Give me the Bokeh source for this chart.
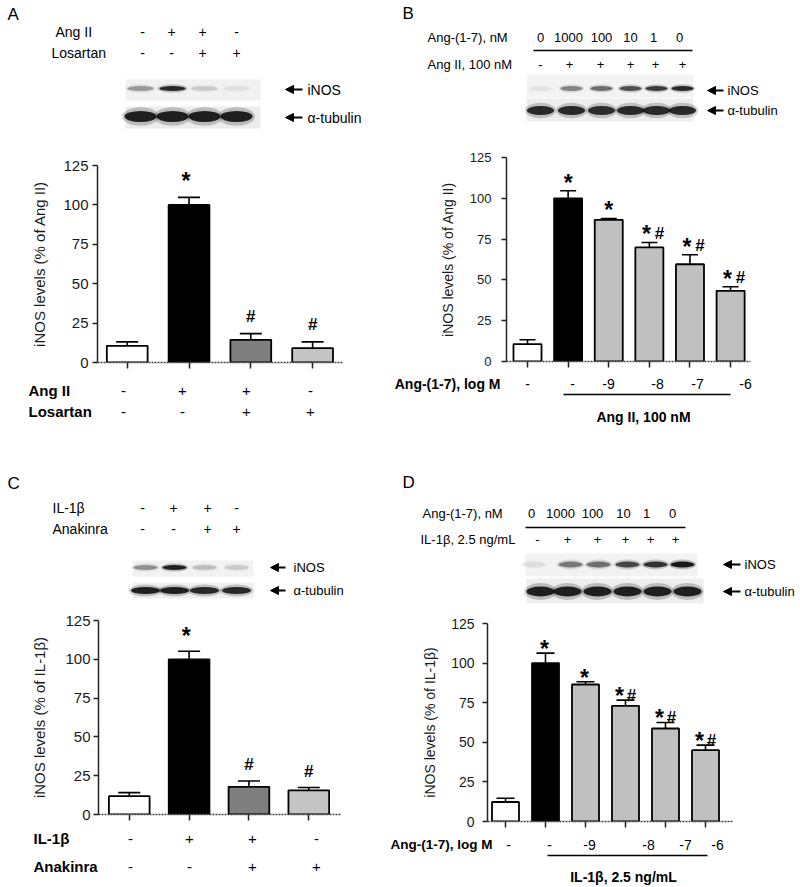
from bokeh.plotting import figure
from bokeh.models import Range1d, ColumnDataSource, Whisker, TeeHead, FixedTicker, Arrow, NormalHead, Label
from bokeh.layouts import row, column
from bokeh.core.properties import value
from bokeh.embed import file_html
from bokeh.resources import INLINE

FONT = "Liberation Sans"

# ---------------- data ----------------
# Panel A
A_row_names = ["Ang II", "Losartan"]
A_angii = ["-", "+", "+", "-"]
A_losartan = ["-", "-", "+", "+"]
A_inos_band = [0.35, 0.9, 0.15, 0.06]
A_tub_band = [0.95, 0.95, 0.95, 0.95]
A_values = [10.6, 100, 14.4, 9.1]
A_err = [13.1, 104.8, 18.3, 13.1]
A_colors = ["white", "black", "#7f7f7f", "#c4c4c4"]
A_marks = ["", "*", "#", "#"]
A_ylabel = "iNOS levels (% of Ang II)"

# Panel B
B_ang17_nM = ["0", "1000", "100", "10", "1", "0"]
B_angii = ["-", "+", "+", "+", "+", "+"]
B_inos_band = [0.06, 0.45, 0.55, 0.7, 0.8, 0.9]
B_tub_band = [0.9, 0.9, 0.88, 0.9, 0.9, 0.9]
B_values = [10.6, 100, 86.8, 69.9, 59.6, 43.3]
B_err = [13.3, 104.6, 87.6, 72.9, 65.4, 45.8]
B_colors = ["white", "black", "#c0c0c0", "#c0c0c0", "#c0c0c0", "#c0c0c0"]
B_marks = ["", "*", "*", "*#", "*#", "*#"]
B_log = ["-", "-", "-9", "-8", "-7", "-6"]
B_ylabel = "iNOS levels (% of Ang II)"

# Panel C
C_il1b = ["-", "+", "+", "-"]
C_anakinra = ["-", "-", "+", "+"]
C_inos_band = [0.4, 0.95, 0.2, 0.15]
C_tub_band = [0.95, 0.95, 0.9, 0.9]
C_values = [11.8, 100, 17.8, 15.6]
C_err = [14.1, 105.2, 21.6, 17.4]
C_colors = ["white", "black", "#7f7f7f", "#c4c4c4"]
C_marks = ["", "*", "#", "#"]
C_ylabel = "iNOS levels (% of IL-1\u03b2)"

# Panel D
D_ang17_nM = ["0", "1000", "100", "10", "1", "0"]
D_il1b = ["-", "+", "+", "+", "+", "+"]
D_inos_band = [0.08, 0.5, 0.55, 0.75, 0.85, 1.0]
D_tub_band = [0.95, 0.95, 0.95, 0.95, 0.95, 0.95]
D_values = [12.3, 100, 86.5, 73.0, 58.7, 45.0]
D_err = [14.7, 106.3, 88.2, 76.6, 62.5, 48.2]
D_colors = ["white", "black", "#c0c0c0", "#c0c0c0", "#c0c0c0", "#c0c0c0"]
D_marks = ["", "*", "*", "*#", "*#", "*#"]
D_log = ["-", "-", "-9", "-8", "-7", "-6"]
D_ylabel = "iNOS levels (% of IL-1\u03b2)"


# ---------------- helpers ----------------
def canvas(x0, y0, w, h):
    p = figure(width=w, height=h, x_range=Range1d(x0, x0 + w), y_range=Range1d(y0 + h, y0),
               output_backend="svg", toolbar_location=None, x_axis_type=None, y_axis_type=None,
               min_border=0, outline_line_color=None, background_fill_color="white",
               border_fill_color="white", frame_align=False)
    return p


def txt(p, xs, ys, texts, size, align="left", bold=False, baseline="middle"):
    p.text(x=xs, y=ys, text=texts, text_font=value(FONT), text_font_size=value(f"{size}px"),
           text_align=align, text_baseline=baseline, text_color="black",
           text_font_style="bold" if bold else "normal")


def letter(p, x, y, t):
    p.add_layout(Label(x=x, y=y, text=t, text_font=FONT, text_font_size="17px",
                       text_align="left", text_baseline="middle", text_color="black"))


def blot(p, lanes, yc, box, strength, bw, bh, bg):
    p.quad(left=[box[0]], right=[box[1]], top=[box[2]], bottom=[box[3]], fill_color=bg, line_color=None)
    n = len(lanes)
    p.ellipse(x=lanes, y=[yc] * n, width=bw * 1.15, height=bh * 1.7, fill_color="black",
              fill_alpha=[s * 0.22 for s in strength], line_color=None)
    p.ellipse(x=lanes, y=[yc] * n, width=bw, height=bh, fill_color="black",
              fill_alpha=[s * 0.88 for s in strength], line_color=None)


def arrow(p, x_from, x_to, y):
    p.add_layout(Arrow(end=NormalHead(size=8, fill_color="black", line_color="black"),
                       x_start=x_from, y_start=y, x_end=x_to, y_end=y, line_width=2.2, line_color="black"))


STAR_C = 0.30   # visual centre of "*" above the baseline, in em
HASH_C = 0.35


def bar_panel(w, h, bl, br, bt, bb, xr, vals, errs, cols, bw, cap, tick_fs, lab_fs, lab,
              tick_sd, lab_sd, marks, gap, sdx_single, sdx_pair, hdx_pair, star_fs=23, hash_fs=17):
    p = figure(width=w, height=h, x_range=Range1d(xr[0], xr[1]), y_range=Range1d(0, 125),
               output_backend="svg", toolbar_location=None, min_border_left=bl, min_border_right=br,
               min_border_top=bt, min_border_bottom=bb, outline_line_color=None,
               background_fill_color="white", border_fill_color="white", frame_align=False)
    p.xgrid.visible = False
    p.ygrid.visible = False
    n = len(vals)
    xs = list(range(1, n + 1))
    src = ColumnDataSource(dict(x=xs, top=vals, err=errs, color=cols))
    p.vbar(x="x", top="top", bottom=0, width=bw, fill_color="color", line_color="black",
           line_width=1.8, source=src)
    p.add_layout(Whisker(source=src, base="x", upper="err", lower="top", dimension="height",
                         line_color="black", line_width=1.6,
                         upper_head=TeeHead(size=cap, line_width=1.6, line_color="black"),
                         lower_head=None))
    sx, sy, sdx, hx, hy, hdx = [], [], [], [], [], []
    for i, m in enumerate(marks):
        if "*" in m:
            sx.append(i + 1); sy.append(errs[i]); sdx.append(sdx_pair if "#" in m else sdx_single)
        if "#" in m:
            hx.append(i + 1); hy.append(errs[i]); hdx.append(hdx_pair if "*" in m else 0)
    ssrc = ColumnDataSource(dict(x=sx, y=sy, dx=sdx, t=["*"] * len(sx)))
    hsrc = ColumnDataSource(dict(x=hx, y=hy, dx=hdx, t=["#"] * len(hx)))
    p.text(x="x", y="y", text="t", x_offset="dx", y_offset=-gap + STAR_C * star_fs, source=ssrc,
           text_align="center", text_baseline="alphabetic", text_font=value(FONT),
           text_font_size=value(f"{star_fs}px"), text_font_style="bold", text_color="black")
    p.text(x="x", y="y", text="t", x_offset="dx", y_offset=-gap + HASH_C * hash_fs, source=hsrc,
           text_align="center", text_baseline="alphabetic", text_font=value(FONT),
           text_font_size=value(f"{hash_fs}px"), text_font_style="bold", text_color="black")

    ya = p.yaxis[0]
    ya.ticker = FixedTicker(ticks=[0, 25, 50, 75, 100, 125])
    ya.minor_tick_line_color = None
    ya.major_tick_in = 0
    ya.major_tick_out = 5
    ya.axis_line_width = 1.5
    ya.axis_line_color = "#222222"
    ya.major_tick_line_width = 1.5
    ya.major_tick_line_color = "#222222"
    ya.major_label_text_font = FONT
    ya.major_label_text_font_size = f"{tick_fs}px"
    ya.major_label_text_color = "#1a1a1a"
    ya.major_label_standoff = tick_sd
    ya.axis_label = lab
    ya.axis_label_text_font = FONT
    ya.axis_label_text_font_size = f"{lab_fs}px"
    ya.axis_label_text_font_style = "normal"
    ya.axis_label_text_color = "#1a1a1a"
    ya.axis_label_standoff = lab_sd

    xa = p.xaxis[0]
    xa.ticker = FixedTicker(ticks=xs)
    xa.minor_tick_line_color = None
    xa.major_tick_in = 0
    xa.major_tick_out = 6
    xa.major_tick_line_width = 1.5
    xa.major_tick_line_color = "#222222"
    xa.axis_line_width = 1.5
    xa.axis_line_color = "#444444"
    xa.axis_line_dash = "2 1"
    xa.major_label_overrides = {k: "" for k in xs}
    xa.major_label_text_font_size = "6px"
    xa.major_label_standoff = 0
    return p


# ---------------- left column (x 0..385) ----------------
LW = 385
A_top = canvas(0, 0, LW, 150)
letter(A_top, 7, 14, "A")
txt(A_top, [55, 51], [31, 52], A_row_names, 14)
hx = [142, 171, 202, 236]
txt(A_top, hx, [31] * 4, A_angii, 14, align="center")
txt(A_top, hx, [52] * 4, A_losartan, 14, align="center")
lanesA = [140, 172, 204, 236]
blot(A_top, lanesA, 88, (125, 260, 79, 100), A_inos_band, 26, 5, "#f1f1f1")
blot(A_top, lanesA, 116, (125, 260, 106, 128), A_tub_band, 32, 11, "#ececec")
arrow(A_top, 302, 285, 89)
arrow(A_top, 302, 285, 117)
txt(A_top, [307, 307], [89, 117], ["iNOS", "\u03b1-tubulin"], 14)

# A bars: frame x 97..343, y 165..362
A_bar = bar_panel(LW, 226, 97, 42, 15, 14, (0.519, 4.50), A_values, A_err, A_colors, 0.66, 22,
                  15, 15, A_ylabel, 4, 12, A_marks, 23, -3, -3, 10)

# A rows + C top
AC = canvas(0, 376, LW, 229)
txt(AC, [28, 28], [390, 411], A_row_names, 15, bold=True)
rx = [123, 182, 246, 310]
txt(AC, rx, [390] * 4, A_angii, 15, align="center")
txt(AC, rx, [411] * 4, A_losartan, 15, align="center")
letter(AC, 7, 483, "C")
txt(AC, [52, 52], [507, 528], ["IL-1\u03b2", "Anakinra"], 14)
cx = [142, 173, 207, 236]
txt(AC, cx, [507] * 4, C_il1b, 14, align="center")
txt(AC, cx, [528] * 4, C_anakinra, 14, align="center")
lanesC = [145, 174, 204, 236]
blot(AC, lanesC, 567, (132, 253, 560, 576), C_inos_band, 24, 5, "#f2f2f2")
blot(AC, lanesC, 590, (132, 253, 582, 598), C_tub_band, 29, 7, "#f0f0f0")
arrow(AC, 285, 270, 567)
arrow(AC, 285, 270, 590)
txt(AC, [293, 293], [567, 590], ["iNOS", "\u03b1-tubulin"], 13)

# C bars: frame x 98..342, y 620..814
C_bar = bar_panel(LW, 223, 98, 45, 15, 14, (0.486, 4.53), C_values, C_err, C_colors, 0.68, 22,
                  15, 15, C_ylabel, 3, 14, C_marks, 22, -3, -3, 10)

# C rows
C_bot = canvas(0, 828, LW, 59)
txt(C_bot, [33, 33], [838, 866], ["IL-1\u03b2", "Anakinra"], 15, bold=True)
crx = [130, 189, 252, 316]
txt(C_bot, crx, [838] * 4, C_il1b, 15, align="center")
txt(C_bot, crx, [866] * 4, C_anakinra, 15, align="center")

# ---------------- right column (x 385..800) ----------------
RW = 415
B_top = canvas(385, 0, RW, 145)
letter(B_top, 402, 13, "B")
txt(B_top, [427, 427], [37, 64], ["Ang-(1-7), nM", "Ang II, 100 nM"], 13)
txt(B_top, [540, 568, 601, 630, 653, 679], [37] * 6, B_ang17_nM, 13, align="center")
B_top.segment(x0=[533], y0=[50], x1=[692], y1=[50], line_color="black", line_width=1.5)
txt(B_top, [540, 569, 600, 630, 655, 682], [64] * 6, B_angii, 13, align="center")
lanesB = [540, 571, 601, 630, 656, 682]
blot(B_top, lanesB, 88, (526, 693, 74, 97), B_inos_band, 22, 5, "#f3f3f3")
blot(B_top, lanesB, 110, (526, 693, 98, 121), B_tub_band, 27, 9, "#eeeeee")
arrow(B_top, 723, 707, 90)
arrow(B_top, 723, 707, 110)
txt(B_top, [727, 727], [90, 110], ["iNOS", "\u03b1-tubulin"], 13)

# B bars: frame x 506..750, y 157..361
B_bar = bar_panel(RW, 230, 121, 50, 12, 14, (0.483, 6.49), B_values, B_err, B_colors, 0.69, 16,
                  13, 14, B_ylabel, 10, 11, B_marks, 15, 0, -3, 10)

# B rows + D top
BD = canvas(385, 375, RW, 236)
txt(BD, [500], [383], ["Ang-(1-7), log M"], 14, align="right", bold=True)
txt(BD, [527, 572, 608, 657, 697, 745], [383] * 6, B_log, 14, align="center")
BD.segment(x0=[563], y0=[394], x1=[730], y1=[394], line_color="black", line_width=1.5)
txt(BD, [643], [416], ["Ang II, 100 nM"], 14, align="center", bold=True)
letter(BD, 402, 482, "D")
txt(BD, [422, 420], [513, 539], ["Ang-(1-7), nM", "IL-1\u03b2, 2.5 ng/mL"], 13)
txt(BD, [531, 560, 592, 623, 646, 672], [513] * 6, D_ang17_nM, 13, align="center")
BD.segment(x0=[525], y0=[527], x1=[685], y1=[527], line_color="black", line_width=1.5)
txt(BD, [537, 567, 597, 625, 650, 675], [539] * 6, D_il1b, 13, align="center")
blot(BD, [533, 570, 598, 627, 655, 682], 564, (525, 697, 553, 576), D_inos_band, 24, 6, "#f2f2f2")
blot(BD, [540, 567, 597, 627, 657, 687], 591, (526, 703, 578, 603), D_tub_band, 28, 10, "#eeeeee")
arrow(BD, 740, 723, 564)
arrow(BD, 740, 723, 591)
txt(BD, [744, 744], [564, 591], ["iNOS", "\u03b1-tubulin"], 13)

# D bars: frame x 487..733, y 623..821
D_bar = bar_panel(RW, 224, 102, 67, 12, 14, (0.55, 6.70), D_values, D_err, D_colors, 0.675, 18,
                  14, 14, D_ylabel, 8, 10, D_marks, 11, -1, -6, 6)

# D rows
D_bot = canvas(385, 835, RW, 52)
txt(D_bot, [492], [844], ["Ang-(1-7), log M"], 13.5, align="right", bold=True)
txt(D_bot, [508, 549, 589, 648, 685, 717], [844] * 6, D_log, 14, align="center")
D_bot.segment(x0=[547], y0=[855], x1=[707], y1=[855], line_color="black", line_width=1.5)
txt(D_bot, [623], [876], ["IL-1\u03b2, 2.5 ng/mL"], 14, align="center", bold=True)

root = row(column(A_top, A_bar, AC, C_bar, C_bot), column(B_top, B_bar, BD, D_bar, D_bot))

open("out.html", "w").write(file_html(root, INLINE))
